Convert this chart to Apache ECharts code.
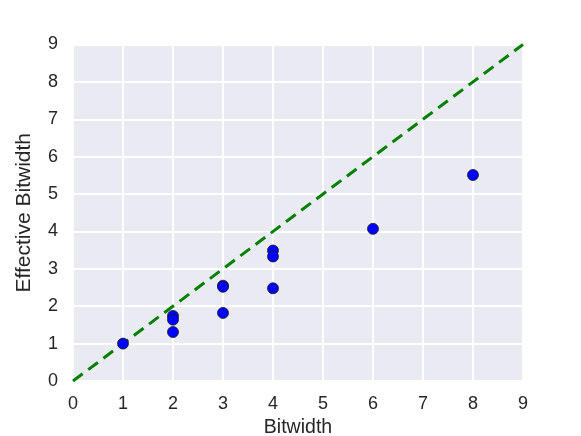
<!DOCTYPE html>
<html><head><meta charset="utf-8">
<script src="https://cdn.jsdelivr.net/npm/echarts@6/dist/echarts.min.js"></script>
<style>html,body{margin:0;padding:0;background:#fff;overflow:hidden}#c{width:581px;height:436px}</style>
</head><body><div id="c"></div>
<script>
const bitwidth = [1, 2, 2, 2, 3, 3, 3, 4, 4, 4, 6, 8];
const effective = [1.0, 1.74, 1.64, 1.31, 2.55, 2.52, 1.82, 3.49, 3.33, 2.48, 4.07, 5.51];
const refLine = [[0, 0], [9, 9]];

const chart = echarts.init(document.getElementById('c'), null, {renderer: 'canvas', width: 581, height: 436});
const font = 'Liberation Sans, Arial, sans-serif';
const axisCommon = {
  min: 0, max: 9, interval: 1,
  axisLine: {show: false}, axisTick: {show: false},
  splitLine: {show: true, lineStyle: {color: '#ffffff', width: 1.8}},
  axisLabel: {color: '#262626', fontSize: 18, fontFamily: font}
};
chart.setOption({
  animation: false,
  backgroundColor: '#ffffff',
  grid: {left: 73, right: 58, top: 44.5, bottom: 55, containLabel: false, outerBoundsMode: 'none',
         backgroundColor: '#EAEAF2', show: true, borderWidth: 0},
  xAxis: Object.assign({}, axisCommon, {
    type: 'value', name: 'Bitwidth', nameLocation: 'middle', nameGap: 36,
    nameTextStyle: {color: '#262626', fontSize: 19.5, fontFamily: font},
    axisLabel: Object.assign({}, axisCommon.axisLabel, {margin: 14})
  }),
  yAxis: Object.assign({}, axisCommon, {
    type: 'value', name: 'Effective Bitwidth', nameLocation: 'middle', nameGap: 38,
    nameTextStyle: {color: '#262626', fontSize: 21, fontFamily: font},
    axisLabel: Object.assign({}, axisCommon.axisLabel, {margin: 15})
  }),
  series: [
    {type: 'line', data: refLine, symbol: 'none', z: 2,
     lineStyle: {color: '#008000', width: 3, type: [12, 7]}},
    {type: 'scatter', data: bitwidth.map((b, i) => [b, effective[i]]), symbolSize: 11, z: 3,
     itemStyle: {color: '#0000ff', opacity: 1, borderColor: '#1a1a1a', borderWidth: 0.8}}
  ]
});
</script></body></html>
